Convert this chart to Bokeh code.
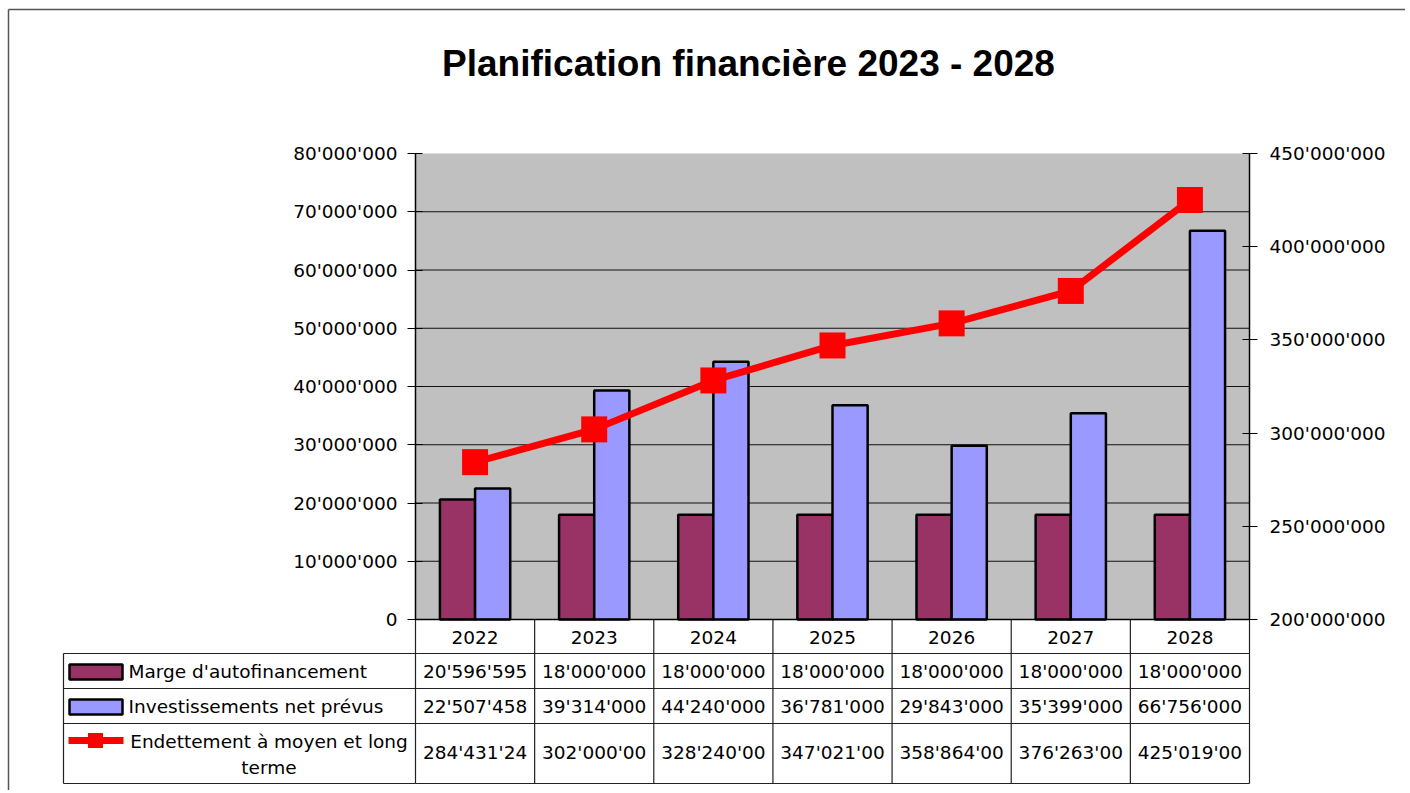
from bokeh.plotting import figure
from bokeh.models import (Range1d, LinearAxis, FixedTicker, CustomJSTickFormatter,
                          ColumnDataSource)
from bokeh.embed import file_html
from bokeh.resources import INLINE
from bokeh.core.properties import value

# ---------------- data ----------------
years = ["2022", "2023", "2024", "2025", "2026", "2027", "2028"]
marge = [20596595, 18000000, 18000000, 18000000, 18000000, 18000000, 18000000]
invest = [22507458, 39314000, 44240000, 36781000, 29843000, 35399000, 66756000]
endet = [284431240, 302000000, 328240000, 347021000, 358864000, 376263000, 425019000]
series_names = ["Marge d'autofinancement", "Investissements net prévus",
                "Endettement à moyen et long", "terme"]
left_ticks = [0, 10000000, 20000000, 30000000, 40000000, 50000000, 60000000, 70000000, 80000000]
grid_ticks = [10000000, 20000000, 30000000, 40000000, 50000000, 60000000, 70000000]
right_ticks = [200000000, 250000000, 300000000, 350000000, 400000000, 450000000]
title_text = "Planification financière 2023 - 2028"

# ---------------- styles / layout ----------------
C_MARGE = "#993366"
C_INV = "#9999FF"
C_LINE = "#FF0000"
C_PLOT = "#C0C0C0"
FONT = "DejaVu Sans"
FS = "18.5px"

PW, PH = 1405, 790          # canvas size (frame = whole canvas)
COL0, COLW = 415.0, 834.0 / 7   # pixel x of first category edge, category width
Y0, Y80 = 619.0, 153.0      # pixel y of left-axis 0 and 80M
L_MIN, L_MAX = 0, 80000000
R_MIN, R_MAX = 200000000, 450000000


def fmt(v):
    return f"{int(v):,}".replace(",", "'")


fmt_js = r"""return Math.round(tick).toString().replace(/\B(?=(\d{3})+(?!\d))/g, "'");"""

n = len(years)
kx = 1.0 / COLW
kl = (L_MAX - L_MIN) / (Y0 - Y80)
kr = (R_MAX - R_MIN) / (Y0 - Y80)

p = figure(width=PW, height=PH, title=None,
           x_range=Range1d(-COL0 * kx, (PW - COL0) * kx),
           y_range=Range1d(L_MIN - (PH - Y0) * kl, L_MAX + Y80 * kl),
           output_backend="svg", toolbar_location=None,
           x_axis_location=None, y_axis_location=None,
           min_border_left=0, min_border_right=0, min_border_top=0, min_border_bottom=0,
           background_fill_color="white", border_fill_color="white", outline_line_color=None)
p.xgrid.visible = False
p.ygrid.visible = False

p.extra_y_ranges = {"right": Range1d(R_MIN - (PH - Y0) * kr, R_MAX + Y80 * kr),
                    "px_y": Range1d(PH, 0)}
p.extra_x_ranges = {"px_x": Range1d(0, PW)}

# outer chart border
p.segment(x0=[8, 8], y0=[9, 9], x1=[8, PW], y1=[PH, 9], x_range_name="px_x",
          y_range_name="px_y", line_color="#555555", line_width=1.5)

# plot area
p.quad(left=[0], right=[n], bottom=[L_MIN], top=[L_MAX], fill_color=C_PLOT, line_color=None)
p.segment(x0=[0] * len(grid_ticks), x1=[n] * len(grid_ticks), y0=grid_ticks, y1=grid_ticks,
          line_color="#111111", line_width=1)

# axes
lax = LinearAxis(ticker=FixedTicker(ticks=left_ticks), formatter=CustomJSTickFormatter(code=fmt_js),
                 fixed_location=0, bounds=(L_MIN, L_MAX))
p.add_layout(lax, "left")
rax = LinearAxis(y_range_name="right", ticker=FixedTicker(ticks=right_ticks),
                 formatter=CustomJSTickFormatter(code=fmt_js), fixed_location=n,
                 bounds=(R_MIN, R_MAX))
p.add_layout(rax, "right")
for ax in [lax, rax]:
    ax.major_tick_in = 7
    ax.major_tick_out = 8
    ax.minor_tick_line_color = None
    ax.axis_line_color = "black"
    ax.axis_line_width = 1.5
    ax.major_tick_line_color = "black"
    ax.major_label_text_font = FONT
    ax.major_label_text_font_size = FS
    ax.major_label_text_color = "black"
lax.major_label_standoff = 10
rax.major_label_standoff = 12

# series
xc = [i + 0.5 for i in range(n)]
src = ColumnDataSource(dict(x=xc, xm=[v - 0.1475 for v in xc], xi=[v + 0.1475 for v in xc],
                            marge=marge, invest=invest, endet=endet))
p.vbar(x="xm", top="marge", bottom=0, width=0.295, source=src,
       fill_color=C_MARGE, line_color="black", line_width=2.5)
p.vbar(x="xi", top="invest", bottom=0, width=0.295, source=src,
       fill_color=C_INV, line_color="black", line_width=2.5)
p.line(x="x", y="endet", y_range_name="right", source=src, line_color=C_LINE, line_width=7)
p.scatter(x="x", y="endet", y_range_name="right", source=src, marker="square", size=26,
          fill_color=C_LINE, line_color=None)

# title
p.text(x=[748], y=[63], text=[title_text], x_range_name="px_x", y_range_name="px_y",
       text_align="center", text_baseline="middle", text_font=value("Liberation Sans"),
       text_font_style="bold", text_font_size="37px", text_color="black")

# ---------------- data table ----------------
row_edges = [619, 653, 688, 723, 783]
leg_left = 63
# horizontal lines across year columns
p.segment(x0=[0] * len(row_edges), x1=[n] * len(row_edges), y0=row_edges, y1=row_edges,
          y_range_name="px_y", line_color="#222222", line_width=1.2)
# horizontal lines across legend column
p.segment(x0=[leg_left] * 4, x1=[COL0] * 4, y0=row_edges[1:], y1=row_edges[1:],
          x_range_name="px_x", y_range_name="px_y", line_color="#222222", line_width=1.2)
# vertical lines
p.segment(x0=list(range(n + 1)), x1=list(range(n + 1)), y0=[row_edges[0]] * (n + 1),
          y1=[row_edges[-1]] * (n + 1), y_range_name="px_y", line_color="#222222", line_width=1.2)
p.segment(x0=[leg_left], x1=[leg_left], y0=[row_edges[1]], y1=[row_edges[-1]],
          x_range_name="px_x", y_range_name="px_y", line_color="#222222", line_width=1.2)
# plot bottom line
p.segment(x0=[0], x1=[n], y0=[L_MIN], y1=[L_MIN], line_color="black", line_width=1.5)

txt = dict(text_align="center", text_baseline="middle", text_font=value(FONT),
           text_font_size=FS, text_color="black", y_range_name="px_y")
p.text(x=xc, y=[637] * n, text=years, **txt)
p.text(x=xc, y=[671] * n, text=[fmt(v) for v in marge], **txt)
p.text(x=xc, y=[706] * n, text=[fmt(v) for v in invest], **txt)
p.text(x=xc, y=[752] * n, text=[fmt(v)[:10] for v in endet], **txt)

# legend keys
p.quad(left=[69, 69], right=[122, 122], top=[664, 699], bottom=[679, 714],
       x_range_name="px_x", y_range_name="px_y",
       fill_color=[C_MARGE, C_INV], line_color="black", line_width=2.5)
p.line(x=[68, 123], y=[740, 740], x_range_name="px_x", y_range_name="px_y",
       line_color=C_LINE, line_width=7)
p.scatter(x=[95], y=[740], x_range_name="px_x", y_range_name="px_y", marker="square",
          size=15, fill_color=C_LINE, line_color=None)

p.text(x=[128, 128], y=[671, 706], text=series_names[:2], x_range_name="px_x",
       y_range_name="px_y", text_align="left", text_baseline="middle",
       text_font=value(FONT), text_font_size=FS, text_color="black")
p.text(x=[268.5, 268.5], y=[741, 767], text=series_names[2:], x_range_name="px_x",
       y_range_name="px_y", text_align="center", text_baseline="middle",
       text_font=value(FONT), text_font_size=FS, text_color="black")

open("out.html", "w").write(file_html(p, INLINE))
